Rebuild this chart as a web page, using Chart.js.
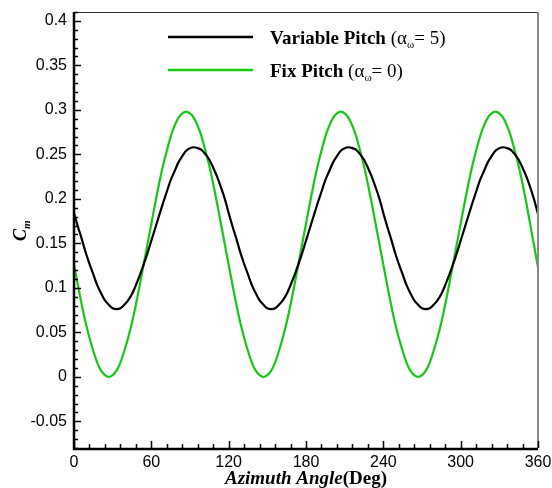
<!DOCTYPE html>
<html>
<head>
<meta charset="utf-8">
<script src="https://cdn.jsdelivr.net/npm/chart.js@4.4.1/dist/chart.umd.min.js"></script>
<style>
  html, body { margin: 0; padding: 0; background: #fff; }
  canvas { display: block; }
</style>
</head>
<body>
<canvas id="cmChart" width="552" height="488"></canvas>
<script>
// azimuth angle (deg)
const angles = [
  0, 3, 6, 9, 12, 15, 18, 21, 24, 27, 30, 33, 36, 39, 42, 45, 48, 51, 54, 57,
  60, 63, 66, 69, 72, 75, 78, 81, 84, 87, 90, 93, 96, 99, 102, 105, 108, 111, 114, 117,
  120, 123, 126, 129, 132, 135, 138, 141, 144, 147, 150, 153, 156, 159, 162, 165, 168, 171, 174, 177,
  180, 183, 186, 189, 192, 195, 198, 201, 204, 207, 210, 213, 216, 219, 222, 225, 228, 231, 234, 237,
  240, 243, 246, 249, 252, 255, 258, 261, 264, 267, 270, 273, 276, 279, 282, 285, 288, 291, 294, 297,
  300, 303, 306, 309, 312, 315, 318, 321, 324, 327, 330, 333, 336, 339, 342, 345, 348, 351, 354, 357,
  360
];

// Cm, variable pitch (alpha_w = 5)
const variablePitch = [
  0.184, 0.169, 0.155, 0.140, 0.127, 0.115, 0.103, 0.094, 0.086, 0.081, 0.077, 0.076, 0.077, 0.081, 0.086, 0.093, 0.103, 0.114, 0.126, 0.139,
  0.153, 0.167, 0.181, 0.195, 0.208, 0.221, 0.231, 0.241, 0.248, 0.254, 0.257, 0.258, 0.257, 0.255, 0.250, 0.244, 0.235, 0.225, 0.213, 0.200,
  0.184, 0.169, 0.155, 0.140, 0.127, 0.115, 0.103, 0.094, 0.086, 0.081, 0.077, 0.076, 0.077, 0.081, 0.086, 0.093, 0.103, 0.114, 0.126, 0.139,
  0.153, 0.167, 0.181, 0.195, 0.208, 0.221, 0.231, 0.241, 0.248, 0.254, 0.257, 0.258, 0.257, 0.255, 0.250, 0.244, 0.235, 0.225, 0.213, 0.200,
  0.184, 0.169, 0.155, 0.140, 0.127, 0.115, 0.103, 0.094, 0.086, 0.081, 0.077, 0.076, 0.077, 0.081, 0.086, 0.093, 0.103, 0.114, 0.126, 0.139,
  0.153, 0.167, 0.181, 0.195, 0.208, 0.221, 0.231, 0.241, 0.248, 0.254, 0.257, 0.258, 0.257, 0.255, 0.250, 0.244, 0.235, 0.225, 0.213, 0.199,
  0.183
];

// Cm, fix pitch (alpha_w = 0)
const fixPitch = [
  0.126, 0.103, 0.081, 0.061, 0.044, 0.029, 0.016, 0.007, 0.002, 0.000, 0.002, 0.007, 0.016, 0.029, 0.044, 0.061, 0.081, 0.103, 0.126, 0.149,
  0.172, 0.195, 0.217, 0.237, 0.254, 0.270, 0.282, 0.291, 0.296, 0.298, 0.296, 0.291, 0.282, 0.270, 0.254, 0.237, 0.217, 0.195, 0.172, 0.149,
  0.126, 0.103, 0.081, 0.061, 0.044, 0.029, 0.016, 0.007, 0.002, 0.000, 0.002, 0.007, 0.016, 0.029, 0.044, 0.061, 0.081, 0.103, 0.126, 0.149,
  0.172, 0.195, 0.217, 0.237, 0.254, 0.270, 0.282, 0.291, 0.296, 0.298, 0.296, 0.291, 0.282, 0.270, 0.254, 0.237, 0.217, 0.195, 0.172, 0.149,
  0.126, 0.103, 0.081, 0.061, 0.044, 0.029, 0.016, 0.007, 0.002, 0.000, 0.002, 0.007, 0.016, 0.029, 0.044, 0.061, 0.081, 0.103, 0.126, 0.149,
  0.172, 0.195, 0.217, 0.237, 0.254, 0.270, 0.282, 0.291, 0.296, 0.298, 0.296, 0.291, 0.282, 0.270, 0.254, 0.237, 0.217, 0.195, 0.171, 0.147,
  0.123
];

const xTicks = [0, 60, 120, 180, 240, 300, 360];
const xMinorStep = 12;
const yTicks = [-0.05, 0, 0.05, 0.1, 0.15, 0.2, 0.25, 0.3, 0.35, 0.4];
const yMinorStep = 0.01;

const GREEN = 'rgb(20, 200, 20)';
const SERIF = '"Liberation Serif", "Times New Roman", serif';
const SANS = '"Liberation Sans", Arial, sans-serif';

// draw a run of text pieces one after another
function drawRun(ctx, x, y, parts) {
    parts.forEach(p => {
        ctx.font = p.font;
        ctx.fillText(p.text, x, y + (p.dy || 0));
        x += ctx.measureText(p.text).width + (p.gap || 0);
    });
}

const framePlugin = {
    id: 'frame',
    afterDatasetsDraw(chart) {
        const { ctx, chartArea: a, scales: { x, y } } = chart;
        ctx.save();
        ctx.lineCap = 'butt';

        // frame
        ctx.strokeStyle = '#333';
        ctx.lineWidth = 1;
        ctx.beginPath(); ctx.moveTo(a.left, a.top + 0.5); ctx.lineTo(a.right, a.top + 0.5); ctx.stroke();
        ctx.strokeStyle = '#888';
        ctx.lineWidth = 2;
        ctx.beginPath(); ctx.moveTo(a.right, a.top); ctx.lineTo(a.right, a.bottom); ctx.stroke();
        ctx.strokeStyle = '#000';
        ctx.lineWidth = 2.5;
        ctx.beginPath(); ctx.moveTo(a.left, a.top); ctx.lineTo(a.left, a.bottom + 1); ctx.lineTo(a.right, a.bottom + 1); ctx.stroke();

        // inward ticks
        ctx.lineWidth = 1.5;
        ctx.beginPath();
        for (let v = 0; v <= 360; v += xMinorStep) {
            const px = Math.round(x.getPixelForValue(v)) + 0.5;
            const len = xTicks.includes(v) ? 7 : 4;
            ctx.moveTo(px, a.bottom); ctx.lineTo(px, a.bottom - len);
        }
        for (let i = -8; i <= 41; i++) {
            const v = i * yMinorStep;
            const py = Math.round(y.getPixelForValue(v)) + 0.5;
            const len = i % 5 === 0 ? 7 : 4;
            ctx.moveTo(a.left, py); ctx.lineTo(a.left + len, py);
        }
        ctx.stroke();

        // legend
        const items = [
            { color: '#000', y: 37, name: 'Variable Pitch ', val: '= 5)' },
            { color: GREEN, y: 70, name: 'Fix Pitch ', val: '= 0)' }
        ];
        items.forEach(it => {
            ctx.strokeStyle = it.color;
            ctx.lineWidth = 2.5;
            ctx.beginPath(); ctx.moveTo(168, it.y); ctx.lineTo(253, it.y); ctx.stroke();
            ctx.fillStyle = '#000';
            ctx.textAlign = 'left';
            ctx.textBaseline = 'alphabetic';
            drawRun(ctx, 270, it.y + 7, [
                { text: it.name, font: 'bold 19px ' + SERIF },
                { text: '(\u03b1', font: '19px ' + SERIF },
                { text: '\u03c9', font: '11px ' + SERIF, dy: 4 },
                { text: it.val, font: '19px ' + SERIF }
            ]);
        });

        // x title
        ctx.font = 'bold italic 19px ' + SERIF;
        const w1 = ctx.measureText('Azimuth Angle').width;
        ctx.font = 'bold 19px ' + SERIF;
        const w2 = ctx.measureText('(Deg)').width;
        drawRun(ctx, 306 - (w1 + w2) / 2, 484, [
            { text: 'Azimuth Angle', font: 'bold italic 19px ' + SERIF },
            { text: '(Deg)', font: 'bold 19px ' + SERIF }
        ]);

        // y title
        ctx.translate(26, 241);
        ctx.rotate(-Math.PI / 2);
        drawRun(ctx, 0, 0, [
            { text: 'C', font: 'bold italic 18px ' + SERIF },
            { text: 'm', font: 'bold italic 11px ' + SERIF, dy: 4 }
        ]);
        ctx.restore();
    }
};

new Chart(document.getElementById('cmChart'), {
    type: 'line',
    data: {
        datasets: [
            {
                label: 'Variable Pitch (\u03b1\u03c9 = 5)',
                data: angles.map((a, i) => ({ x: a, y: variablePitch[i] })),
                borderColor: '#000',
                borderWidth: 2.2,
                pointRadius: 0,
                cubicInterpolationMode: 'monotone'
            },
            {
                label: 'Fix Pitch (\u03b1\u03c9 = 0)',
                data: angles.map((a, i) => ({ x: a, y: fixPitch[i] })),
                borderColor: GREEN,
                borderWidth: 2.2,
                pointRadius: 0,
                cubicInterpolationMode: 'monotone'
            }
        ]
    },
    options: {
        responsive: false,
        animation: false,
        layout: { padding: { top: 12, right: 14, left: 0, bottom: 0 } },
        plugins: {
            legend: { display: false },
            tooltip: { enabled: false }
        },
        scales: {
            x: {
                type: 'linear',
                min: 0,
                max: 360,
                afterBuildTicks: s => { s.ticks = xTicks.map(v => ({ value: v })); },
                afterFit: s => { s.height = 40; s.paddingLeft = 0; s.paddingRight = 0; },
                grid: { display: false, drawTicks: false },
                border: { display: false },
                ticks: {
                    padding: 5,
                    maxRotation: 0,
                    color: '#000',
                    font: { family: SANS, size: 16 }
                }
            },
            y: {
                type: 'linear',
                min: -0.08,
                max: 0.41,
                afterBuildTicks: s => { s.ticks = yTicks.map(v => ({ value: v })); },
                afterFit: s => { s.width = 74; s.paddingTop = 0; s.paddingBottom = 0; },
                grid: { display: false, drawTicks: false },
                border: { display: false },
                ticks: {
                    padding: 7,
                    color: '#000',
                    font: { family: SANS, size: 16 },
                    callback: v => String(Number(v.toFixed(2)))
                }
            }
        }
    },
    plugins: [framePlugin]
});
</script>
</body>
</html>
